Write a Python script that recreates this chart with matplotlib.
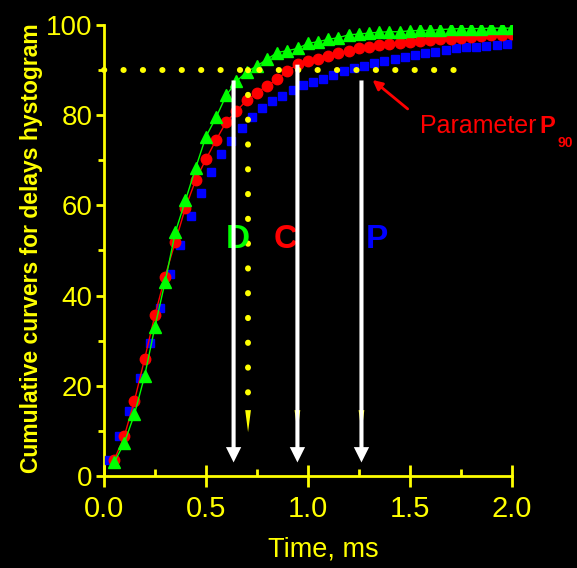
import matplotlib
matplotlib.use("Agg")
import matplotlib.pyplot as plt
from matplotlib.ticker import MultipleLocator, FixedLocator

# ---------------- data ----------------
time_gc = [0.05, 0.10, 0.15, 0.20, 0.25, 0.30, 0.35, 0.40, 0.45, 0.50,
           0.55, 0.60, 0.65, 0.70, 0.75, 0.80, 0.85, 0.90, 0.95, 1.00,
           1.05, 1.10, 1.15, 1.20, 1.25, 1.30, 1.35, 1.40, 1.45, 1.50,
           1.55, 1.60, 1.65, 1.70, 1.75, 1.80, 1.85, 1.90, 1.95, 2.00]
time_p = [0.025, 0.075, 0.125, 0.175, 0.225, 0.275, 0.325, 0.375, 0.425, 0.475,
          0.525, 0.575, 0.625, 0.675, 0.725, 0.775, 0.825, 0.875, 0.925, 0.975,
          1.025, 1.075, 1.125, 1.175, 1.225, 1.275, 1.325, 1.375, 1.425, 1.475,
          1.525, 1.575, 1.625, 1.675, 1.725, 1.775, 1.825, 1.875, 1.925, 1.975]

curve_D = [3.0, 7.3, 13.7, 22.2, 33.0, 43.0, 54.0, 61.1, 68.3, 75.2,
           79.5, 84.4, 87.5, 89.6, 90.9, 92.4, 93.9, 94.3, 94.8, 95.9,
           96.3, 96.8, 97.2, 97.8, 98.0, 98.2, 98.4, 98.5, 98.5, 98.7,
           98.8, 98.8, 99.0, 99.1, 99.2, 99.2, 99.2, 99.3, 99.3, 99.3]
curve_C = [3.5, 8.8, 16.7, 26.0, 35.6, 44.2, 51.9, 59.5, 65.6, 70.2,
           74.5, 78.5, 80.9, 83.3, 85.0, 86.5, 88.0, 89.8, 91.3, 92.0,
           92.5, 93.2, 93.7, 94.3, 94.8, 95.1, 95.5, 95.7, 96.0, 96.2,
           96.5, 96.7, 96.8, 97.0, 97.2, 97.4, 97.6, 97.8, 97.8, 97.9]
curve_P = [3.5, 8.8, 14.3, 21.8, 29.4, 37.2, 44.7, 51.3, 57.6, 62.7,
           67.5, 71.4, 74.2, 77.2, 79.6, 81.6, 83.1, 84.3, 85.6, 86.6,
           87.4, 88.1, 88.9, 89.9, 90.4, 91.0, 91.5, 92.0, 92.4, 92.8,
           93.4, 93.7, 94.1, 94.5, 94.8, 95.1, 95.2, 95.4, 95.6, 95.8]

level = 90
p90_labels = ["D", "C", "P"]
p90_times = [0.636, 0.949, 1.263]
arrow_tops = [87.7, 91.2, 87.7]
d_dotted_x = 0.707
xticks = [0.0, 0.5, 1.0, 1.5, 2.0]
xticklabels = ["0.0", "0.5", "1.0", "1.5", "2.0"]
yticks = [0, 20, 40, 60, 80, 100]

# ---------------- style ----------------
REG = "Liberation Sans"
YEL = "#FFFF00"
GRN = "#00FF00"
RED = "#FF0000"
BLU = "#0000FF"

fig = plt.figure(figsize=(5.77, 5.68), dpi=100, facecolor="black")
ax = fig.add_axes([0.180, 0.162, 0.707, 0.794], facecolor="black")

ax.plot(time_p, curve_P, linestyle="none", marker="s", ms=6, color=BLU, zorder=3)
ax.plot(time_gc, curve_C, "-", color=RED, lw=1, marker="o", ms=7.5, mfc=RED, mec=RED, zorder=4)
ax.plot(time_gc, curve_D, "-", color=GRN, lw=1, marker="^", ms=8, mfc=GRN, mec=GRN, zorder=5)

# yellow dotted guide lines
ax.plot([0, 1.78], [level, level], color=YEL, lw=4.3,
        linestyle=(0, (0.05, 3.2)), dash_capstyle="round", zorder=6, clip_on=False)
ax.plot([d_dotted_x, d_dotted_x], [level, 17], color=YEL, lw=4.3,
        linestyle=(0, (0.05, 4.1)), dash_capstyle="round", zorder=6)
for xx in [d_dotted_x] + p90_times[1:]:
    ax.arrow(xx, 14.6, 0, -4.9, width=0.0, head_width=0.028, head_length=4.9,
             length_includes_head=True, color=YEL, lw=0, zorder=6)

# white arrows
for xx, top in zip(p90_times, arrow_tops):
    ax.arrow(xx, top, 0, 3.0 - top, width=0.02, head_width=0.075, head_length=3.4,
             length_includes_head=True, fc="white", ec="white", lw=0, zorder=8)

# letters
letter_cols = [GRN, RED, BLU]
letter_x = [0.657, 0.892, 1.337]
for lab, xx, c in zip(p90_labels, letter_x, letter_cols):
    ax.text(xx, 52.5, lab, color=c, fontsize=24, fontweight="bold", family=REG,
            ha="center", va="center", zorder=7)

# Parameter P90 annotation
ax.annotate("", xy=(1.307, 88.2), xytext=(1.50, 81.0),
            arrowprops=dict(arrowstyle="-|>", color=RED, lw=2, mutation_scale=14),
            zorder=9, annotation_clip=False)
ax.text(1.549, 76.1, "Parameter", color=RED, fontsize=18, family=REG,
        ha="left", va="baseline", clip_on=False)
ax.text(2.137, 76.1, "P", color=RED, fontsize=17, family=REG, fontweight="bold",
        ha="left", va="baseline", clip_on=False)
ax.text(2.222, 73.0, "90", color=RED, fontsize=10, family=REG, fontweight="bold",
        ha="left", va="baseline", clip_on=False)

# axes
ax.set_xlim(0, 2.0)
ax.set_ylim(0, 100)
for s in ["top", "right"]:
    ax.spines[s].set_visible(False)
for s in ["left", "bottom"]:
    ax.spines[s].set_color(YEL)
    ax.spines[s].set_linewidth(2)

ax.xaxis.set_major_locator(FixedLocator(xticks))
ax.set_xticklabels(xticklabels)
ax.xaxis.set_minor_locator(MultipleLocator(0.25))
ax.yaxis.set_major_locator(FixedLocator(yticks))
ax.yaxis.set_minor_locator(MultipleLocator(10))

ax.tick_params(axis="x", which="major", direction="inout", length=16, width=2,
               color=YEL, labelcolor=YEL, labelsize=21, pad=6)
ax.tick_params(axis="x", which="minor", direction="in", length=5, width=2, color=YEL)
ax.tick_params(axis="y", which="major", direction="out", length=6, width=2,
               color=YEL, labelcolor=YEL, labelsize=20, pad=2)
ax.tick_params(axis="y", which="minor", direction="out", length=4, width=2, color=YEL)
for lab in ax.get_xticklabels() + ax.get_yticklabels():
    lab.set_family(REG)

ax.set_xlabel("Time, ms", color=YEL, fontsize=19.5, family=REG)
ax.xaxis.set_label_coords(0.537, -0.135)
ax.xaxis.label.set_va("top")
ax.set_ylabel("Cumulative curvers for delays hystogram", color=YEL, fontsize=16.5,
              family=REG, fontweight="bold")
ax.yaxis.set_label_coords(-0.150, 0.504)

fig.savefig("out.png", dpi=100, facecolor="black")
